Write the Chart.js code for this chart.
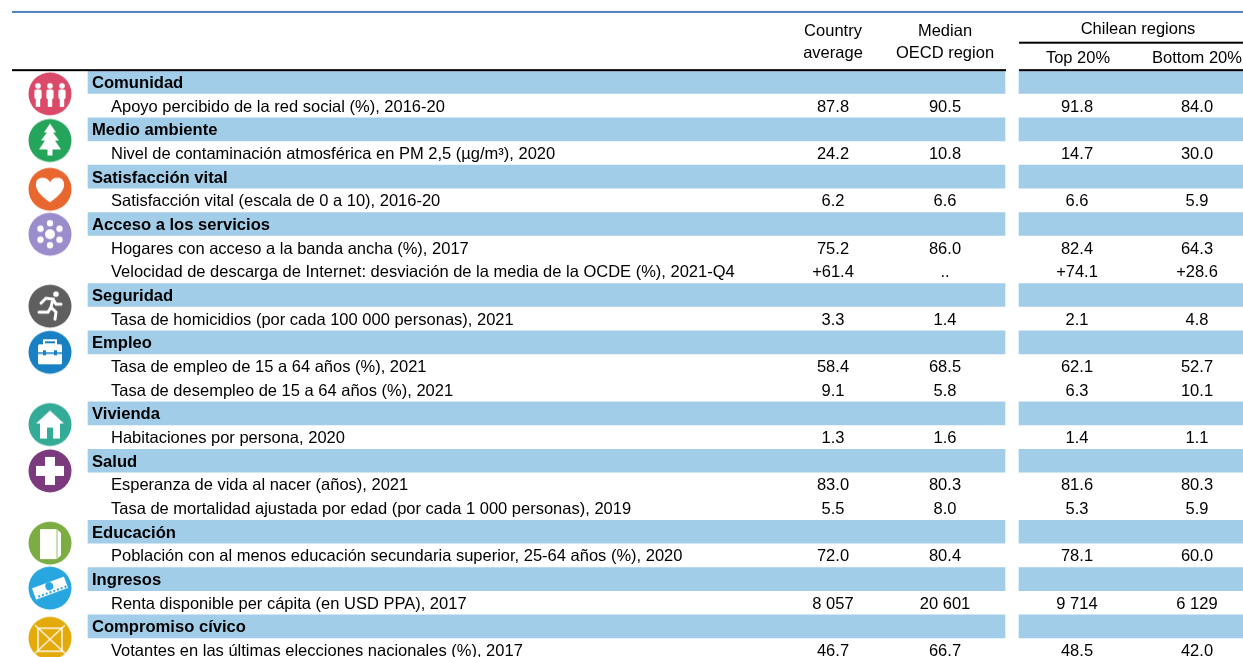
<!DOCTYPE html>
<html>
<head>
<meta charset="utf-8">
<style>
  html, body { margin: 0; padding: 0; background: #fff; overflow: hidden; }
  canvas { display: block; }
</style>
<script src="https://cdn.jsdelivr.net/npm/chart.js@4"></script>
</head>
<body>
<canvas id="regionTable" width="1243" height="657"></canvas>
<script>
// Table data
const rowLabels = [
  'Comunidad',
  'Apoyo percibido de la red social (%), 2016-20',
  'Medio ambiente',
  'Nivel de contaminación atmosférica en PM 2,5 (µg/m³), 2020',
  'Satisfacción vital',
  'Satisfacción vital (escala de 0 a 10), 2016-20',
  'Acceso a los servicios',
  'Hogares con acceso a la banda ancha (%), 2017',
  'Velocidad de descarga de Internet: desviación de la media de la OCDE (%), 2021-Q4',
  'Seguridad',
  'Tasa de homicidios (por cada 100 000 personas), 2021',
  'Empleo',
  'Tasa de empleo de 15 a 64 años (%), 2021',
  'Tasa de desempleo de 15 a 64 años (%), 2021',
  'Vivienda',
  'Habitaciones por persona, 2020',
  'Salud',
  'Esperanza de vida al nacer (años), 2021',
  'Tasa de mortalidad ajustada por edad (por cada 1 000 personas), 2019',
  'Educación',
  'Población con al menos educación secundaria superior, 25-64 años (%), 2020',
  'Ingresos',
  'Renta disponible per cápita (en USD PPA), 2017',
  'Compromiso cívico',
  'Votantes en las últimas elecciones nacionales (%), 2017'
];
const sectionRows = [0, 2, 4, 6, 9, 11, 14, 16, 19, 21, 23];
const countryAverage = [null, '87.8', null, '24.2', null, '6.2', null, '75.2', '+61.4', null, '3.3', null, '58.4', '9.1', null, '1.3', null, '83.0', '5.5', null, '72.0', null, '8 057', null, '46.7'];
const medianOecd = [null, '90.5', null, '10.8', null, '6.6', null, '86.0', '..', null, '1.4', null, '68.5', '5.8', null, '1.6', null, '80.3', '8.0', null, '80.4', null, '20 601', null, '66.7'];
const top20 = [null, '91.8', null, '14.7', null, '6.6', null, '82.4', '+74.1', null, '2.1', null, '62.1', '6.3', null, '1.4', null, '81.6', '5.3', null, '78.1', null, '9 714', null, '48.5'];
const bottom20 = [null, '84.0', null, '30.0', null, '5.9', null, '64.3', '+28.6', null, '4.8', null, '52.7', '10.1', null, '1.1', null, '80.3', '5.9', null, '60.0', null, '6 129', null, '42.0'];

// Layout, x in canvas px, y in rows
const ROW_PX = 23.67;
const FIRST_ROW_PX = 82;
const TEXT_SHIFT_PX = 1.5;
const FONT = '"Liberation Sans", Arial, sans-serif';
const BLUE_BAND = '#a2cde8';
const valueColumns = [
  { values: countryAverage, x: 833 },
  { values: medianOecd, x: 945 },
  { values: top20, x: 1077 },
  { values: bottom20, x: 1197 }
];
const headerTexts = [
  { text: 'Country', x: 833, y: -2.2 },
  { text: 'average', x: 833, y: -1.26 },
  { text: 'Median', x: 945, y: -2.2 },
  { text: 'OECD region', x: 945, y: -1.26 },
  { text: 'Chilean regions', x: 1138, y: -2.28 },
  { text: 'Top 20%', x: 1078, y: -1.06 },
  { text: 'Bottom 20%', x: 1197, y: -1.06 }
];
const headerRules = [
  { from: 12, to: 1243, y: -2.96, color: '#4f81bd', width: 2 },
  { from: 1019, to: 1243, y: -1.66, color: '#000', width: 2 },
  { from: 12, to: 1006, y: -0.5, color: '#000', width: 2 },
  { from: 1019, to: 1243, y: -0.5, color: '#000', width: 2 }
];

// Icons, one per section
function drawCommunity(c) {
  [-12, 0, 12].forEach(dx => {
    c.beginPath();
    c.arc(dx, -8, 2.8, 0, Math.PI * 2);
    c.fill();
    c.beginPath();
    c.roundRect(dx - 3.6, -4.5, 7.2, 10, 2);
    c.rect(dx - 2.2, 4, 4.4, 9);
    c.fill();
  });
}
function drawTree(c) {
  c.beginPath();
  c.moveTo(0, -17);
  c.lineTo(6, -8); c.lineTo(3, -8);
  c.lineTo(9, 0); c.lineTo(5, 0);
  c.lineTo(11, 9); c.lineTo(2.5, 9);
  c.lineTo(2.5, 15); c.lineTo(-2.5, 15); c.lineTo(-2.5, 9);
  c.lineTo(-11, 9); c.lineTo(-5, 0);
  c.lineTo(-9, 0); c.lineTo(-3, -8);
  c.lineTo(-6, -8);
  c.closePath();
  c.fill();
}
function drawHeart(c) {
  c.beginPath();
  c.moveTo(0, 13);
  c.bezierCurveTo(-10, 6, -15, 0, -14, -6);
  c.bezierCurveTo(-13, -13, -3, -13, 0, -7);
  c.bezierCurveTo(3, -13, 13, -13, 14, -6);
  c.bezierCurveTo(15, 0, 10, 6, 0, 13);
  c.fill();
}
function drawServices(c) {
  c.beginPath();
  c.arc(0, 0, 5, 0, Math.PI * 2);
  c.fill();
  for (let i = 0; i < 6; i++) {
    const a = -Math.PI / 2 + i * Math.PI / 3;
    c.beginPath();
    c.arc(Math.cos(a) * 11, Math.sin(a) * 11, 3.2, 0, Math.PI * 2);
    c.fill();
  }
}
function drawSafety(c) {
  c.beginPath();
  c.arc(6, -12, 2.8, 0, Math.PI * 2);
  c.fill();
  c.lineWidth = 3;
  c.lineCap = 'round';
  c.beginPath();
  c.moveTo(-9, -3); c.lineTo(-4, -8); c.lineTo(3, -7);
  c.lineTo(1, 1); c.lineTo(6, 6); c.lineTo(5, 13);
  c.moveTo(3, -7); c.lineTo(6, -2); c.lineTo(11, -2);
  c.moveTo(1, 1); c.lineTo(-2, 6); c.lineTo(-11, 6);
  c.stroke();
}
function drawJobs(c, color) {
  c.beginPath();
  c.roundRect(-12, -8, 24, 20, 1.5);
  c.fill();
  c.lineWidth = 2;
  c.strokeStyle = '#fff';
  c.strokeRect(-6, -12, 12, 4);
  c.fillStyle = color;
  c.fillRect(-12, 0, 24, 1.6);
  c.fillRect(-7, -2, 3, 5);
  c.fillRect(4, -2, 3, 5);
}
function drawHouse(c, color) {
  c.beginPath();
  c.moveTo(0, -14); c.lineTo(14, -1); c.lineTo(10, -1);
  c.lineTo(10, 14); c.lineTo(-10, 14); c.lineTo(-10, -1); c.lineTo(-14, -1);
  c.closePath();
  c.fill();
  c.fillStyle = color;
  c.fillRect(-3, 3, 6, 11);
}
function drawHealth(c) {
  c.fillRect(-5, -14, 10, 28);
  c.fillRect(-14, -5, 28, 10);
}
function drawEducation(c, color) {
  c.beginPath();
  c.moveTo(-10, -14); c.lineTo(7, -14); c.lineTo(11, -10);
  c.lineTo(11, 12); c.lineTo(7, 16); c.lineTo(-10, 16);
  c.closePath();
  c.fill();
  c.strokeStyle = color;
  c.lineWidth = 0.8;
  c.beginPath();
  c.moveTo(7, -14); c.lineTo(7, 16);
  c.stroke();
}
function drawIncome(c, color) {
  c.rotate(-0.35);
  c.fillRect(-17, -6, 34, 12);
  c.fillStyle = color;
  c.beginPath();
  c.arc(0, -2, 4, 0, Math.PI * 2);
  c.fill();
  for (let i = -14; i <= 14; i += 4) c.fillRect(i, 3, 2, 2);
}
function drawCivic(c) {
  c.globalAlpha = 0.85;
  c.lineWidth = 1.6;
  c.strokeStyle = '#fff';
  c.strokeRect(-12, -10, 24, 23);
  c.beginPath();
  c.moveTo(-15, -13); c.lineTo(15, 15);
  c.moveTo(15, -13); c.lineTo(-15, 15);
  c.stroke();
}
const sectionIcons = [
  { color: '#dc4a6a', draw: drawCommunity, y: 0.5 },
  { color: '#25a55b', draw: drawTree, y: 0.47 },
  { color: '#e8672f', draw: drawHeart, y: 0.53 },
  { color: '#9b8ccb', draw: drawServices, y: 0.43 },
  { color: '#5f5f5f', draw: drawSafety, y: 0.47 },
  { color: '#1a80c4', draw: drawJobs, y: 0.42 },
  { color: '#34ab97', draw: drawHouse, y: 0.47 },
  { color: '#7c3a7e', draw: drawHealth, y: 0.43 },
  { color: '#7cad43', draw: drawEducation, y: 0.48 },
  { color: '#28a6e0', draw: drawIncome, y: 0.38 },
  { color: '#e3aa0a', draw: drawCivic, y: 0.5 }
];
function makeIcon(icon) {
  const cv = document.createElement('canvas');
  cv.width = 46;
  cv.height = 46;
  const c = cv.getContext('2d');
  c.translate(23, 23);
  c.filter = 'blur(0.4px)';
  c.fillStyle = icon.color;
  c.beginPath();
  c.arc(0, 0, 21.5, 0, Math.PI * 2);
  c.fill();
  c.fillStyle = '#fff';
  c.strokeStyle = '#fff';
  icon.draw(c, icon.color);
  return cv;
}

// Draws all text and rules through the scales
const tablePlugin = {
  id: 'tablePlugin',
  afterDatasetsDraw(chart) {
    const c = chart.ctx;
    const x = chart.scales.x;
    const y = chart.scales.y;
    const textY = row => y.getPixelForValue(row) + TEXT_SHIFT_PX;
    c.save();
    headerRules.forEach(r => {
      c.fillStyle = r.color;
      c.fillRect(x.getPixelForValue(r.from), y.getPixelForValue(r.y) - r.width / 2, x.getPixelForValue(r.to) - x.getPixelForValue(r.from), r.width);
    });
    c.textBaseline = 'middle';
    c.fillStyle = '#000';
    c.font = '16.5px ' + FONT;
    c.textAlign = 'center';
    headerTexts.forEach(h => c.fillText(h.text, x.getPixelForValue(h.x), textY(h.y)));
    valueColumns.forEach(col => {
      col.values.forEach((v, i) => {
        if (v !== null) c.fillText(v, x.getPixelForValue(col.x), textY(i));
      });
    });
    c.textAlign = 'left';
    rowLabels.forEach((label, i) => {
      const isSection = sectionRows.includes(i);
      c.font = (isSection ? 'bold 16.6px ' : '16.5px ') + FONT;
      c.fillText(label, x.getPixelForValue(isSection ? 92 : 111), textY(i));
    });
    c.restore();
  }
};

const tableChart = new Chart(document.getElementById('regionTable').getContext('2d'), {
  type: 'bar',
  data: {
    datasets: [
      {
        type: 'scatter',
        data: sectionRows.map((row, i) => ({ x: 50, y: row + sectionIcons[i].y })),
        pointStyle: sectionIcons.map(makeIcon),
        order: 0
      },
      {
        indexAxis: 'y',
        grouped: false,
        barThickness: 23,
        backgroundColor: BLUE_BAND,
        data: sectionRows.map(row => ({ x: [88, 1005], y: row })),
        order: 1
      },
      {
        indexAxis: 'y',
        grouped: false,
        barThickness: 23,
        backgroundColor: BLUE_BAND,
        data: sectionRows.map(row => ({ x: [1019, 1243], y: row })),
        order: 1
      }
    ]
  },
  options: {
    responsive: false,
    animation: false,
    layout: { padding: 0, autoPadding: false },
    plugins: { legend: { display: false }, tooltip: { enabled: false } },
    scales: {
      x: { type: 'linear', display: false, offset: false, min: 0, max: 1243 },
      y: {
        type: 'linear',
        display: false,
        offset: false,
        reverse: true,
        min: -FIRST_ROW_PX / ROW_PX,
        max: (657 - FIRST_ROW_PX) / ROW_PX
      }
    }
  },
  plugins: [tablePlugin]
});
</script>
</body>
</html>
